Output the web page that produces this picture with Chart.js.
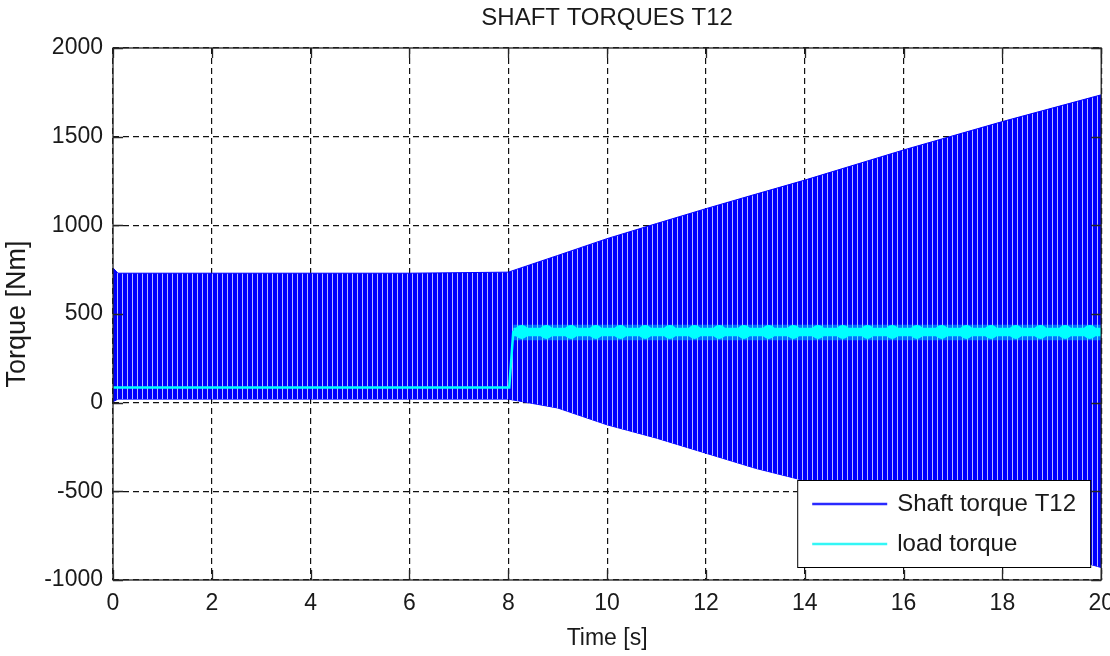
<!DOCTYPE html>
<html>
<head>
<meta charset="utf-8">
<title>Shaft torques T12</title>
<script src="https://cdn.jsdelivr.net/npm/chart.js@4.4.0/dist/chart.umd.min.js"></script>
<style>
  html, body { margin: 0; padding: 0; background: #fff; overflow: hidden; }
  #wrap { width: 1124px; height: 656px; }
</style>
</head>
<body>
<div id="wrap"><canvas id="torqueChart" width="1124" height="656"></canvas></div>
<script>
// values
const xTicks = [0, 2, 4, 6, 8, 10, 12, 14, 16, 18, 20];
const yTicks = [-1000, -500, 0, 500, 1000, 1500, 2000];

// shaft torque T12: envelope of the fast oscillation (upper / lower peaks)
const shaftTime  = [0, 0.1, 2, 4, 6, 8, 9, 10, 11, 12, 13, 14, 16, 18, 20];
const shaftUpper = [760, 730, 730, 730, 730, 736, 830, 925, 1010, 1094, 1175, 1255, 1425, 1585, 1736];
const shaftLower = [5, 20, 20, 20, 20, 20, -30, -125, -200, -285, -370, -440, -600, -765, -930];

// load torque
const loadTime   = [0, 8.02, 8.1, 20];
const loadValues = [85, 85, 398, 398];

// ripple on the load torque after the step
const rippleTime       = [8.1, 20];
const rippleOuterUpper = [440, 440];
const rippleOuterLower = [352, 352];
const rippleInnerUpper = [422, 422];
const rippleInnerLower = [374, 374];
const blobTime  = [8.27, 8.77, 9.27, 9.77, 10.27, 10.77, 11.27, 11.77, 12.27, 12.77, 13.27, 13.77,
                   14.27, 14.77, 15.27, 15.77, 16.27, 16.77, 17.27, 17.77, 18.27, 18.77, 19.27, 19.77];
const blobValue = [399, 399, 399, 399, 399, 399, 399, 399, 399, 399, 399, 399,
                   399, 399, 399, 399, 399, 399, 399, 399, 399, 399, 399, 399];

const FONT = "'Liberation Sans', Arial, sans-serif";
const BLUE = '#0000ff';
const CYAN = '#00ffff';

function pts(xs, ys) {
    return xs.map((x, i) => ({ x: x, y: ys[i] }));
}

// thin light stripes, like the aliased oscillation in the original plot
function stripeFill() {
    const tile = document.createElement('canvas');
    tile.width = 5;
    tile.height = 4;
    const t = tile.getContext('2d');
    t.fillStyle = BLUE;
    t.fillRect(0, 0, 5, 4);
    t.fillStyle = '#b8b8ff';
    t.fillRect(2, 0, 1, 4);
    return t.createPattern(tile, 'repeat');
}

// MATLAB style box, inward ticks, title and legend
const matlabFrame = {
    id: 'matlabFrame',
    afterDraw(chart) {
        const ctx = chart.ctx;
        const a = chart.chartArea;
        const x = chart.scales.x;
        const y = chart.scales.y;
        ctx.save();

        ctx.strokeStyle = '#262626';
        ctx.lineWidth = 1.3;
        ctx.strokeRect(a.left, a.top, a.right - a.left, a.bottom - a.top);

        ctx.beginPath();
        xTicks.forEach(v => {
            const px = Math.round(x.getPixelForValue(v)) + 0.5;
            ctx.moveTo(px, a.bottom); ctx.lineTo(px, a.bottom - 10);
            ctx.moveTo(px, a.top); ctx.lineTo(px, a.top + 10);
        });
        yTicks.forEach(v => {
            const py = Math.round(y.getPixelForValue(v)) + 0.5;
            ctx.moveTo(a.left, py); ctx.lineTo(a.left + 10, py);
            ctx.moveTo(a.right, py); ctx.lineTo(a.right - 10, py);
        });
        ctx.stroke();

        // title
        ctx.fillStyle = '#1a1a1a';
        ctx.font = '24px ' + FONT;
        ctx.textAlign = 'center';
        ctx.textBaseline = 'middle';
        ctx.fillText('SHAFT TORQUES T12', (a.left + a.right) / 2, 18);

        // legend box
        const bw = 293, bh = 87;
        const bx = a.right - 11 - bw;
        const by = a.bottom - 13 - bh;
        ctx.fillStyle = '#fff';
        ctx.fillRect(bx, by, bw, bh);
        ctx.strokeStyle = '#000';
        ctx.lineWidth = 1;
        ctx.strokeRect(bx + 0.5, by + 0.5, bw, bh);

        const items = [['Shaft torque T12', '#2a2aff'], ['load torque', '#33f6f6']];
        items.forEach((it, i) => {
            const ly = by + 24 + i * 40;
            ctx.strokeStyle = it[1];
            ctx.lineWidth = 2.5;
            ctx.beginPath();
            ctx.moveTo(bx + 15, ly);
            ctx.lineTo(bx + 90, ly);
            ctx.stroke();
            ctx.fillStyle = '#1a1a1a';
            ctx.font = '24px ' + FONT;
            ctx.textAlign = 'left';
            ctx.textBaseline = 'middle';
            ctx.fillText(it[0], bx + 100, ly);
        });
        ctx.restore();
    }
};

const ctx = document.getElementById('torqueChart').getContext('2d');
new Chart(ctx, {
    type: 'line',
    data: {
        datasets: [
            {   // ripple peaks
                data: pts(blobTime, blobValue),
                showLine: false,
                pointRadius: 7,
                pointBackgroundColor: CYAN,
                pointBorderWidth: 0
            },
            {
                label: 'load torque',
                data: pts(loadTime, loadValues),
                borderColor: CYAN,
                borderWidth: 2.5,
                pointRadius: 0,
                fill: false
            },
            {
                data: pts(rippleTime, rippleInnerUpper),
                borderWidth: 0,
                pointRadius: 0,
                backgroundColor: CYAN,
                fill: '+1'
            },
            {
                data: pts(rippleTime, rippleInnerLower),
                borderWidth: 0,
                pointRadius: 0,
                fill: false
            },
            {
                data: pts(rippleTime, rippleOuterUpper),
                borderWidth: 0,
                pointRadius: 0,
                backgroundColor: 'rgba(0, 255, 255, 0.45)',
                fill: '+1'
            },
            {
                data: pts(rippleTime, rippleOuterLower),
                borderWidth: 0,
                pointRadius: 0,
                fill: false
            },
            {
                label: 'Shaft torque T12',
                data: pts(shaftTime, shaftUpper),
                borderColor: BLUE,
                borderWidth: 1,
                pointRadius: 0,
                backgroundColor: stripeFill(),
                fill: '+1'
            },
            {
                data: pts(shaftTime, shaftLower),
                borderColor: BLUE,
                borderWidth: 1,
                pointRadius: 0,
                fill: false
            }
        ]
    },
    options: {
        responsive: false,
        animation: false,
        layout: { padding: { top: 48, right: 0, bottom: 0, left: 0 } },
        plugins: {
            legend: { display: false },
            tooltip: { enabled: false }
        },
        scales: {
            x: {
                type: 'linear',
                min: 0,
                max: 20,
                afterBuildTicks: scale => { scale.ticks = xTicks.map(v => ({ value: v })); },
                afterFit: scale => { scale.height = 76; },
                ticks: {
                    font: { family: FONT, size: 23 },
                    color: '#1a1a1a',
                    padding: 10,
                    maxRotation: 0,
                    callback: v => String(v)
                },
                grid: { color: '#111', lineWidth: 1.2, drawTicks: false },
                border: { display: false, dash: [6, 4] },
                title: {
                    display: true,
                    text: 'Time [s]',
                    font: { family: FONT, size: 23 },
                    color: '#1a1a1a',
                    padding: { top: 0, bottom: 4 }
                }
            },
            y: {
                min: -1000,
                max: 2000,
                afterBuildTicks: scale => { scale.ticks = yTicks.map(v => ({ value: v })); },
                afterFit: scale => { scale.width = 113; },
                ticks: {
                    font: { family: FONT, size: 23 },
                    color: '#1a1a1a',
                    padding: 10,
                    callback: v => String(v)
                },
                grid: { color: '#111', lineWidth: 1.2, drawTicks: false },
                border: { display: false, dash: [6, 4] },
                title: {
                    display: true,
                    text: 'Torque [Nm]',
                    font: { family: FONT, size: 27 },
                    color: '#1a1a1a',
                    padding: { top: 1, bottom: 0 }
                }
            }
        }
    },
    plugins: [matlabFrame]
});
</script>
</body>
</html>
